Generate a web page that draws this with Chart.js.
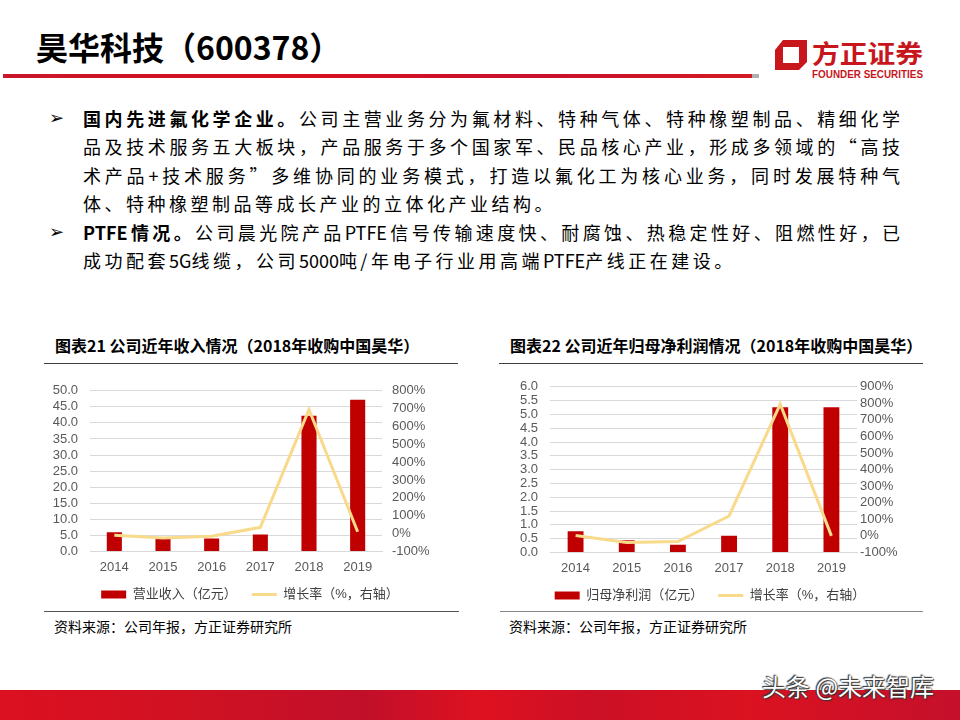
<!DOCTYPE html>
<html>
<head>
<meta charset="utf-8">
<script src="https://cdn.jsdelivr.net/npm/chart.js@4.4.1/dist/chart.umd.min.js"></script>
<style>
  body { margin: 0; width: 960px; height: 720px; position: relative; background: #fff; overflow: hidden;
         font-family: "Noto Sans CJK SC", sans-serif; color: #000; }
  .abs { position: absolute; }
  #title { left: 36px; top: 24px; font-size: 32px; font-weight: 700; line-height: 44px; white-space: nowrap; }
  #redline { left: 3px; top: 74px; width: 749px; height: 4px; background: linear-gradient(90deg, #c9162a, #d7101f 40%, #c8102e 70%, #d21a22); }
  #grayend { left: 752px; top: 74px; width: 7px; height: 4px; background: #b0b0b0; }
  .bullet { left: 49px; font-size: 18px; font-family: "DejaVu Sans", sans-serif; line-height: 28.4px; }
  .line { left: 83px; width: 817px; font-size: 18px; line-height: 28.4px; white-space: nowrap; }
  .full { text-align: justify; text-align-last: justify; }
  .last { letter-spacing: 3.5px; }
  .lat { display: inline-block; letter-spacing: 0; }
  b { font-weight: 700; }
  .ctitle { font-size: 16px; font-weight: 700; line-height: 22px; white-space: nowrap; }
  .rule { height: 1px; background: #404040; }
  .src { font-size: 14px; line-height: 20px; white-space: nowrap; }
  #band { left: 0; top: 690px; width: 960px; height: 30px;
          background: linear-gradient(90deg, #dc1020 0%, #d01223 20%, #c10f2a 38%, #de1120 50%, #cc1026 62%, #db1220 78%, #c5102c 100%); }
  #wm { left: 762px; top: 668px; font-size: 24px; line-height: 36px; color: #fff; white-space: nowrap;
        text-shadow: 0 0 2px #333, 1px 1px 1px #333, -1px -1px 1px #333; }
</style>
</head>
<body>
<div id="title" class="abs">昊华科技（600378）</div>
<div id="redline" class="abs"></div>
<div id="grayend" class="abs"></div>

<svg class="abs" style="left:760px;top:30px" width="180" height="56">
  <polygon points="23,10 47,10 47,32 39,40 15,40 15,20" fill="#c8161d"/>
  <rect x="23" y="17" width="16" height="16" fill="#fff"/>
  <text x="52" y="33" font-family="Noto Sans CJK SC" font-weight="700" font-size="25" fill="#c8161d" textLength="111" lengthAdjust="spacingAndGlyphs">方正证券</text>
  <text x="52" y="48" font-family="Liberation Sans" font-weight="700" font-size="10" fill="#c8161d" textLength="111" lengthAdjust="spacingAndGlyphs">FOUNDER SECURITIES</text>
</svg>

<div class="abs bullet" style="top:104px">➢</div>
<div class="abs line full" style="top:104px"><b>国内先进氟化学企业。</b>公司主营业务分为氟材料、特种气体、特种橡塑制品、精细化学</div>
<div class="abs line full" style="top:132.4px">品及技术服务五大板块，产品服务于多个国家军、民品核心产业，形成多领域的“高技</div>
<div class="abs line full" style="top:160.8px">术产品+技术服务”多维协同的业务模式，打造以氟化工为核心业务，同时发展特种气</div>
<div class="abs line last" style="top:189.2px">体、特种橡塑制品等成长产业的立体化产业结构。</div>
<div class="abs bullet" style="top:217.6px">➢</div>
<div class="abs line full" style="top:217.6px"><b><span class="lat">PTFE</span>情况。</b>公司晨光院产品<span class="lat">PTFE</span>信号传输速度快、耐腐蚀、热稳定性好、阻燃性好，已</div>
<div class="abs line last" style="top:246px">成功配套<span class="lat">5G</span>线缆，公司<span class="lat">5000</span>吨/年电子行业用高端<span class="lat">PTFE</span>产线正在建设。</div>

<div class="abs ctitle" style="left:55px;top:334px">图表21 公司近年收入情况（2018年收购中国昊华）</div>
<div class="abs rule" style="left:44px;top:363px;width:414px"></div>
<div class="abs ctitle" style="left:510px;top:334px">图表22 公司近年归母净利润情况（2018年收购中国昊华）</div>
<div class="abs rule" style="left:499px;top:363px;width:424px"></div>

<div class="abs" style="left:40px;top:371px;width:420px;height:242px"><canvas id="c1"></canvas></div>
<div class="abs" style="left:495px;top:367px;width:430px;height:247px"><canvas id="c2"></canvas></div>

<div class="abs rule" style="left:44px;top:611px;width:415px;background:#555"></div>
<div class="abs rule" style="left:500px;top:611px;width:423px;background:#888"></div>
<div class="abs src" style="left:54px;top:616px">资料来源：公司年报，方正证券研究所</div>
<div class="abs src" style="left:509px;top:616px">资料来源：公司年报，方正证券研究所</div>

<div id="band" class="abs"></div>
<div id="wm" class="abs">头条 @未来智库</div>

<script>
const years = ['2014', '2015', '2016', '2017', '2018', '2019'];
const revenue = [6.0, 4.0, 4.0, 5.3, 42.2, 47.2];
const revenueGrowth = [-10, -25, -15, 35, 695, 10];
const netProfit = [0.77, 0.44, 0.28, 0.60, 5.26, 5.26];
const profitGrowth = [2, -40, -34, 120, 795, 0];

const font = '"Liberation Sans", "Noto Sans CJK SC", sans-serif';
Chart.defaults.font.family = font;
Chart.defaults.animation = false;

function loadChart(id, barLabel, bars, growth, leftMax, leftStep, rightMax, leftW, rightW, rightPad) {
  new Chart(document.getElementById(id), {
    data: {
      labels: years,
      datasets: [{
        type: 'bar',
        label: barLabel,
        data: bars,
        backgroundColor: '#c00000',
        categoryPercentage: 1,
        barPercentage: 0.31,
        pointStyle: 'rect',
        yAxisID: 'y',
        order: 1
      }, {
        type: 'line',
        label: '增长率（%，右轴）',
        data: growth,
        borderColor: '#f9d98a',
        backgroundColor: '#f9d98a',
        borderWidth: 3,
        pointRadius: 0,
        tension: 0,
        pointStyle: 'line',
        yAxisID: 'y1',
        order: 0
      }]
    },
    options: {
      responsive: true,
      maintainAspectRatio: false,
      layout: { padding: { top: 0, bottom: 2 } },
      plugins: {
        legend: {
          position: 'bottom',
          labels: {
            usePointStyle: true,
            pointStyleWidth: 25,
            boxHeight: 8,
            padding: 5,
            color: '#404040',
            font: { size: 13 },
            sort: (a, b) => a.datasetIndex - b.datasetIndex,
            generateLabels: chart => {
              const items = Chart.defaults.plugins.legend.labels.generateLabels(chart);
              // a little more room between the two legend entries
              items.forEach(it => { if (it.datasetIndex === 0) it.text += '\u3000 '; });
              return items;
            }
          }
        },
        tooltip: { enabled: false }
      },
      scales: {
        x: {
          grid: { display: false, drawTicks: false },
          border: { display: true, color: '#d9d9d9' },
          ticks: { color: '#595959', font: { size: 13 }, padding: 8 }
        },
        y: {
          min: 0,
          max: leftMax,
          grid: { color: '#d9d9d9', drawTicks: false },
          border: { display: false },
          ticks: { stepSize: leftStep, autoSkip: false, color: '#595959', font: { size: 13 }, padding: 12,
                   callback: v => v.toFixed(1) },
          afterFit: s => { s.width = leftW; }
        },
        y1: {
          position: 'right',
          min: -100,
          max: rightMax,
          grid: { display: false, drawTicks: false },
          border: { display: false },
          ticks: { stepSize: 100, autoSkip: false, color: '#595959', font: { size: 13 }, padding: rightPad,
                   callback: v => v + '%' },
          afterFit: s => { s.width = rightW; }
        }
      }
    }
  });
}

loadChart('c1', '营业收入（亿元）', revenue, revenueGrowth, 50, 5, 800, 50, 78, 10);
loadChart('c2', '归母净利润（亿元）', netProfit, profitGrowth, 6, 0.5, 900, 55, 68, 3);
</script>
</body>
</html>
